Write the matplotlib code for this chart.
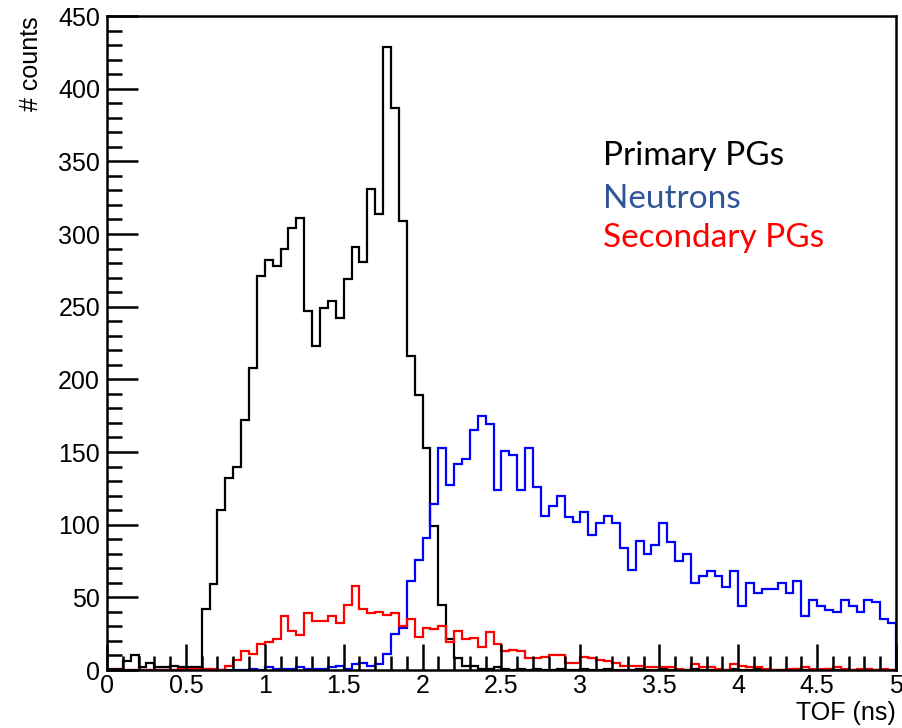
import matplotlib
matplotlib.use("Agg")
import matplotlib.pyplot as plt
import numpy as np
from matplotlib.ticker import MultipleLocator

# TOF histogram, 100 bins of 0.05 ns between 0 and 5 ns
edges = np.linspace(0.0, 5.0, 101)

primary = [
    1, 1, 6, 10, 2, 5, 2, 2, 3, 2,
    2, 2, 42, 59, 110, 132, 140, 172, 208, 271,
    282, 278, 290, 304, 311, 247, 223, 249, 254, 242,
    269, 291, 281, 331, 314, 429, 387, 309, 216, 189,
    153, 99, 45, 21, 8, 3, 3, 1, 1, 2,
    1, 0, 1, 0, 1, 0, 0, 1, 0, 0,
    1, 0, 0, 1, 0, 0, 0, 1, 0, 0,
    1, 0, 0, 0, 1, 0, 0, 0, 0, 1,
    0, 0, 1, 0, 0, 0, 0, 1, 0, 0,
    0, 1, 0, 0, 0, 0, 1, 0, 0, 0,
]

neutrons = [
    0, 0, 0, 0, 0, 0, 0, 0, 0, 0,
    0, 0, 1, 0, 0, 0, 0, 0, 1, 0,
    2, 1, 1, 1, 2, 1, 1, 1, 2, 3,
    1, 4, 5, 3, 4, 11, 25, 29, 61, 76,
    91, 114, 153, 127, 142, 145, 165, 175, 169, 124,
    151, 148, 124, 153, 126, 106, 113, 120, 105, 102,
    109, 93, 101, 106, 101, 84, 69, 89, 80, 86,
    101, 88, 75, 80, 60, 65, 68, 65, 57, 68,
    44, 60, 53, 56, 56, 60, 53, 61, 37, 48,
    44, 41, 40, 48, 44, 40, 48, 47, 35, 32,
]

secondary = [
    0, 0, 0, 0, 0, 0, 0, 0, 0, 1,
    1, 1, 1, 1, 0, 3, 7, 13, 11, 18,
    19, 21, 37, 27, 24, 39, 34, 34, 37, 32,
    45, 58, 42, 39, 40, 38, 39, 30, 35, 23,
    29, 28, 30, 19, 27, 21, 22, 16, 26, 18,
    13, 14, 13, 8, 8, 9, 10, 10, 5, 5,
    9, 8, 7, 6, 5, 3, 3, 3, 2, 2,
    2, 2, 1, 0, 4, 2, 2, 1, 0, 4,
    3, 2, 2, 1, 0, 0, 1, 1, 2, 1,
    1, 1, 2, 1, 0, 1, 1, 0, 1, 0,
]

labels = ["Primary PGs", "Neutrons", "Secondary PGs"]
label_colors = ["black", "#2f5597", "#ff0000"]

plt.rcParams["font.family"] = ["Liberation Sans", "DejaVu Sans"]

fig = plt.figure(figsize=(9.03, 7.28), dpi=100)
ax = fig.add_axes([107 / 903, 58 / 728, 789 / 903, 654 / 728])

ax.stairs(primary, edges, color="black", lw=1.6, baseline=0)
ax.stairs(neutrons, edges, color="#0000ff", lw=1.6, baseline=0)
ax.stairs(secondary, edges, color="#ff0000", lw=1.6, baseline=0)

ax.set_xlim(0, 5)
ax.set_ylim(0, 450)
ax.xaxis.set_major_locator(MultipleLocator(0.5))
ax.xaxis.set_minor_locator(MultipleLocator(0.1))
ax.yaxis.set_major_locator(MultipleLocator(50))
ax.yaxis.set_minor_locator(MultipleLocator(10))
ax.xaxis.set_major_formatter(plt.FuncFormatter(lambda v, p: f"{v:g}"))

ax.tick_params(which="both", direction="in", width=1.8, labelsize=18,
               top=False, right=False)
ax.tick_params(axis="x", which="major", length=19, pad=3)
ax.tick_params(axis="x", which="minor", length=10)
ax.tick_params(axis="y", which="major", length=22, pad=5)
ax.tick_params(axis="y", which="minor", length=11)
for sp in ax.spines.values():
    sp.set_linewidth(1.8)

fig.text(896 / 903, 1 - 713 / 728, "TOF (ns)", ha="right", va="center",
         fontsize=18)
fig.text(31 / 903, 1 - 16 / 728, "# counts", ha="center", va="top",
         rotation=90, fontsize=18)

ys = [165, 208, 247]
for txt, c, yb in zip(labels, label_colors, ys):
    fig.text(603 / 903, 1 - yb / 728, txt, color=c, ha="left",
             va="baseline", fontsize=24, family=["Lato", "DejaVu Sans"])

fig.savefig("out.png", dpi=100)
